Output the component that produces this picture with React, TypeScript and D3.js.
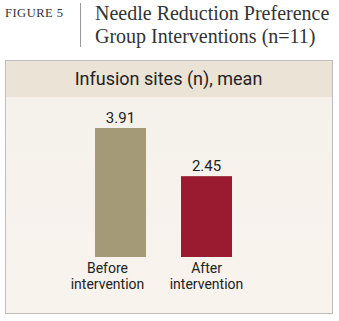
import React from "react";
import * as d3 from "d3";

// chart content
const figureLabel = "FIGURE 5";
const titleLines = ["Needle Reduction Preference", "Group Interventions (n=11)"];
const panelTitle = "Infusion sites (n), mean";
const categories = ["Before intervention", "After intervention"];
const categoryLines = [["Before", "intervention"], ["After", "intervention"]];
const values = [3.91, 2.45];
const barColors = ["#a59a78", "#9a1b30"];

const width = 339;
const height = 321;

const panel = { left: 5, top: 60, right: 332, bottom: 313, header: 36 };
const plot = { left: 95, right: 232, baseline: 257, top: 128 };

export default function App() {
  const x = d3.scaleBand<string>()
    .domain(categories)
    .range([plot.left, plot.right])
    .paddingInner(0.407)
    .paddingOuter(0);

  const y = d3.scaleLinear()
    .domain([0, d3.max(values) as number])
    .range([plot.baseline, plot.top]);

  const sans = "Roboto, 'Noto Sans', sans-serif";
  const serif = "'Liberation Serif', 'DejaVu Serif', serif";

  return (
    <svg width={width} height={height} style={{ position: "absolute", left: 0, top: 0 }}>
      <defs>
        <linearGradient id="bodyFill" x1="0" y1="0" x2="0" y2="1">
          <stop offset="0%" stopColor="#f4f1eb" />
          <stop offset="100%" stopColor="#f9f3ee" />
        </linearGradient>
      </defs>
      <rect width={width} height={height} fill="#ffffff" />

      {/* heading */}
      <text x={5} y={17} fontFamily={serif} fontSize={12.5} letterSpacing={0.5} fill="#333">
        {figureLabel}
      </text>
      <line x1={80.5} x2={80.5} y1={3} y2={47} stroke="#9a9a9a" strokeWidth={1} />
      {titleLines.map((t, i) => (
        <text key={t} x={95} y={20 + i * 22.5} fontFamily={serif} fontSize={20} fill="#333">
          {t}
        </text>
      ))}

      {/* panel */}
      <rect
        x={panel.left + 0.5}
        y={panel.top + 0.5}
        width={panel.right - panel.left}
        height={panel.bottom - panel.top}
        fill="url(#bodyFill)"
        stroke="#bdbdbd"
      />
      <rect
        x={panel.left + 1}
        y={panel.top + 1}
        width={panel.right - panel.left - 1}
        height={panel.header}
        fill="#ebe3d5"
      />
      <text
        x={(panel.left + panel.right) / 2}
        y={85}
        textAnchor="middle"
        fontFamily={sans}
        fontSize={18}
        fill="#222"
      >
        {panelTitle}
      </text>

      {/* bars */}
      {categories.map((c, i) => {
        const bx = x(c) as number;
        const cx = bx + x.bandwidth() / 2;
        const lx = i === 0 ? cx - 13 : cx;
        return (
          <g key={c}>
            <rect
              x={bx}
              y={y(values[i])}
              width={x.bandwidth()}
              height={y(0) - y(values[i])}
              fill={barColors[i]}
            />
            <text x={cx} y={y(values[i]) - 5} textAnchor="middle" fontFamily={sans} fontSize={15} fill="#222">
              {values[i].toFixed(2)}
            </text>
            <text x={lx} y={273} textAnchor="middle" fontFamily={sans} fontSize={14} fill="#222">
              {categoryLines[i].map((ln, j) => (
                <tspan key={j} x={lx} dy={j === 0 ? 0 : 16}>
                  {ln}
                </tspan>
              ))}
            </text>
          </g>
        );
      })}
    </svg>
  );
}
